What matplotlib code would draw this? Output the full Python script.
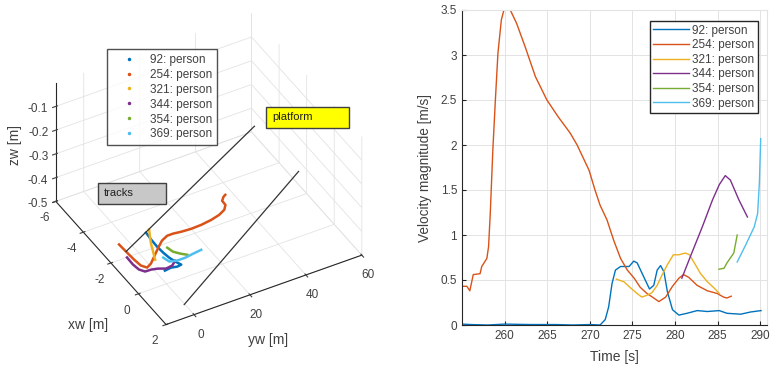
import matplotlib
matplotlib.use('Agg')
import matplotlib.pyplot as plt
from matplotlib.lines import Line2D
from matplotlib.patches import Rectangle
import numpy as np

plt.rcParams['font.family'] = ['Liberation Sans', 'DejaVu Sans']
plt.rcParams['grid.color'] = '#E3E3E3'
plt.rcParams['grid.linewidth'] = 0.6
plt.rcParams['axes.unicode_minus'] = False

labels = ['92: person', '254: person', '321: person', '344: person', '354: person', '369: person']
colors = ['#0072BD', '#D95319', '#EDB120', '#7E2F8E', '#77AC30', '#4DBEEE']

# ---- 3D tracks (world coordinates, m) ----
x92 = [-2.88, -2.45, -2.00, -1.60, -1.25, -0.94, -0.69, -0.66, -0.72, -0.68]
y92 = [6.9, 6.6, 6.5, 6.7, 7.1, 7.8, 8.7, 7.1, 5.2, 2.8]
x254 = [-2.77, -2.23, -1.77, -1.35, -1.14, -1.27, -1.56, -1.93, -2.21, -2.36, -2.36,
        -2.31, -2.28, -2.30, -2.37, -2.48, -2.64, -2.86, -3.12, -3.29, -3.36]
y254 = [-3.3, -3.1, -2.9, -2.5, -1.3, 0.7, 3.3, 6.6, 9.3, 11.9, 14.0,
        16.7, 20.1, 23.8, 27.7, 31.1, 33.7, 35.2, 35.3, 36.6, 37.6]
x321 = [-2.98, -2.62, -2.20, -1.82, -1.39]
y321 = [8.5, 7.0, 5.4, 4.2, 2.8]
x344 = [-1.99, -1.54, -1.19, -0.98, -0.97, -0.90, -0.76, -0.80, -0.99]
y344 = [-4.3, -4.4, -4.0, -2.8, -0.7, 1.4, 3.6, 6.0, 8.0]
x354 = [-1.77, -1.47, -1.25, -1.07]
y354 = [9.0, 9.6, 11.1, 12.7]
x369 = [-1.07, -1.02, -0.96, -0.96, -1.05, -1.35]
y369 = [17.7, 14.6, 11.4, 8.6, 6.2, 5.5]
track_z = -0.5

plat_x = [[-2.30, -1.55], [1.33, 1.45]]
plat_y = [[-3.1, 39.1], [-0.2, 40.1]]
plat_z = [[-0.5, -0.1], [-0.5, -0.1]]

xticks3 = [-6, -4, -2, 0, 2]
yticks3 = [0, 20, 40, 60]
zticks3 = [-0.5, -0.4, -0.3, -0.2, -0.1]

# ---- velocity series ----
t92 = [255.0, 256.0, 258.0, 260.0, 263.0, 266.0, 268.0, 270.0, 271.2, 271.8, 272.2, 272.6,
       273.0, 273.6, 274.6, 275.15, 275.55, 276.3, 277.0, 277.5, 277.9, 278.3, 278.7,
       279.1, 279.7, 280.45, 281.4, 282.6, 283.8, 285.2, 286.1, 287.7, 288.9, 290.1]
v92 = [0.01, 0.005, 0.0, 0.01, 0.005, 0.005, 0.0, 0.005, 0.0, 0.06, 0.2, 0.46,
       0.61, 0.65, 0.65, 0.71, 0.69, 0.54, 0.40, 0.44, 0.61, 0.66, 0.59,
       0.37, 0.17, 0.11, 0.13, 0.16, 0.15, 0.16, 0.13, 0.12, 0.145, 0.16]
t254 = [255.0, 255.55, 255.9, 256.3, 257.1, 257.3, 257.9, 258.1, 258.3, 258.6, 258.9,
        259.2, 259.6, 259.9, 260.3, 260.65, 261.4, 262.4, 263.6, 264.95, 266.3, 267.7,
        268.5, 269.9, 270.6, 271.2, 272.0, 272.8, 273.6, 274.4, 275.2, 275.9, 276.7,
        277.5, 278.1, 278.9, 279.7, 280.45, 281.0, 281.6, 282.6, 283.8, 284.96, 285.7,
        286.1, 286.6]
v254 = [0.43, 0.43, 0.38, 0.56, 0.57, 0.65, 0.74, 0.87, 1.24, 1.94, 2.5,
        3.02, 3.39, 3.5, 3.58, 3.5, 3.35, 3.09, 2.76, 2.5, 2.31, 2.13,
        2.0, 1.72, 1.5, 1.33, 1.17, 0.94, 0.74, 0.61, 0.52, 0.42, 0.35,
        0.30, 0.26, 0.31, 0.43, 0.52, 0.56, 0.53, 0.44, 0.38, 0.35, 0.31,
        0.30, 0.32]
t321 = [273.1, 274.0, 274.8, 275.55, 276.1, 276.7, 277.3, 277.9, 278.5, 279.1, 279.8,
        280.45, 281.2, 281.7, 282.2, 283.0, 283.8, 284.6, 285.2]
v321 = [0.51, 0.48, 0.41, 0.35, 0.31, 0.33, 0.36, 0.44, 0.56, 0.67, 0.78,
        0.78, 0.80, 0.78, 0.70, 0.57, 0.48, 0.41, 0.35]
t344 = [280.8, 281.8, 283.2, 284.4, 285.2, 285.9, 286.5, 287.5, 288.5]
v344 = [0.52, 0.76, 1.09, 1.39, 1.56, 1.66, 1.61, 1.39, 1.20]
t354 = [285.15, 285.75, 286.1, 286.9, 287.3]
v354 = [0.62, 0.63, 0.69, 0.80, 1.0]
t369 = [287.3, 288.3, 289.3, 289.7, 289.9, 290.06]
v369 = [0.70, 0.89, 1.09, 1.24, 1.57, 2.07]

xticks2 = [260, 265, 270, 275, 280, 285, 290]
yticks2 = [0, 0.5, 1, 1.5, 2, 2.5, 3, 3.5]

AX = '#262626'
TXT = '#404040'

fig = plt.figure(figsize=(7.79, 3.70), dpi=100)

# ================= 3D plot =================
ax3 = fig.add_axes([0.0116, 0.03, 0.5, 1.0], projection='3d')
ax3.set_proj_type('ortho')
ax3.view_init(elev=39, azim=-29.4)
ax3.set_box_aspect((1, 1, 0.68), zoom=0.925)

tracks = [(x92, y92), (x254, y254), (x321, y321), (x344, y344), (x354, y354), (x369, y369)]
for (tx, ty), c in zip(tracks, colors):
    ax3.plot(tx, ty, [track_z] * len(tx), '-', color=c, lw=1.8)
for px, py, pz in zip(plat_x, plat_y, plat_z):
    ax3.plot(px, py, pz, '-', color='#333333', lw=0.9)

ax3.set_xlim(-6, 2)
ax3.set_ylim(-10, 60)
ax3.set_zlim(-0.5, 0)
ax3.set_xticks(xticks3)
ax3.set_yticks(yticks3)
ax3.set_zticks(zticks3)
ax3.set_zticklabels(['-0.5', '-0.4', '-0.3', '-0.2', '-0.1'])
ax3.tick_params(labelsize=8.5, colors=TXT, pad=0)
for a in (ax3.xaxis, ax3.yaxis, ax3.zaxis):
    a.set_pane_color((1, 1, 1, 0))
    a.pane.set_edgecolor('#DADADA')
    a.line.set_color(AX)
    a.line.set_linewidth(0.8)
ax3.zaxis.set_ticks_position('lower')
ax3.set_xlabel('')
ax3.set_ylabel('')
ax3.set_zlabel('')
# axis titles of the 3D view
fig.text(88 / 779, 1 - 325 / 370, 'xw [m]', fontsize=10, color=TXT, ha='center', va='center')
fig.text(268 / 779, 1 - 340 / 370, 'yw [m]', fontsize=10, color=TXT, ha='center', va='center')
fig.text(15 / 779, 1 - 145 / 370, 'zw [m]', fontsize=10, color=TXT, ha='center', va='center',
         rotation=90)

h3 = [Line2D([], [], ls='none', marker='.', ms=3, color=c) for c in colors]
fig.legend(h3, labels, loc='upper left', bbox_to_anchor=(107 / 779, 1 - 49 / 370),
           bbox_transform=fig.transFigure, fontsize=8.5, frameon=True, fancybox=False,
           edgecolor=AX, handlelength=2.85, handletextpad=0.38, labelspacing=0.25,
           borderpad=0.4, borderaxespad=0, labelcolor=TXT)

# annotation boxes
fig.patches.append(Rectangle((98 / 779, 1 - 204 / 370), 68 / 779, 21 / 370,
                             transform=fig.transFigure, facecolor='#C8C8C8',
                             edgecolor='#404040', lw=1))
fig.text(104 / 779, 1 - 193.5 / 370, 'tracks', fontsize=8, va='center', color='#222222')
fig.patches.append(Rectangle((266 / 779, 1 - 128 / 370), 83 / 779, 21 / 370,
                             transform=fig.transFigure, facecolor='#FFFF00',
                             edgecolor='#404040', lw=1))
fig.text(272 / 779, 1 - 117.5 / 370, 'platform', fontsize=8, va='center', color='#222222')

# ================= 2D velocity plot =================
ax2 = fig.add_axes([462 / 779, 1 - 325 / 370, 305 / 779, 315 / 370])
series = [(t92, v92), (t254, v254), (t321, v321), (t344, v344), (t354, v354), (t369, v369)]
for (tt, vv), c, lab in zip(series, colors, labels):
    ax2.plot(tt, vv, '-', color=c, lw=1.0, label=lab)
ax2.set_xlim(254.98, 290.8)
ax2.set_ylim(0, 3.5)
ax2.set_xticks(xticks2)
ax2.set_yticks(yticks2)
ax2.set_yticklabels(['0', '0.5', '1', '1.5', '2', '2.5', '3', '3.5'])
ax2.grid(True, color='#E3E3E3', lw=0.7)
ax2.set_axisbelow(True)
ax2.tick_params(direction='in', length=3, labelsize=8.5, colors=TXT, color=AX)
for s in ('left', 'bottom'):
    ax2.spines[s].set_color(AX)
    ax2.spines[s].set_linewidth(0.8)
for s in ('top', 'right'):
    ax2.spines[s].set_color('#E3E3E3')
ax2.set_xlabel('Time [s]', fontsize=10, color=TXT, labelpad=6)
ax2.set_ylabel('Velocity magnitude [m/s]', fontsize=9.8, color=TXT, labelpad=6)
ax2.legend(loc='upper right', bbox_to_anchor=(758 / 779, 1 - 21 / 370),
           bbox_transform=fig.transFigure, fontsize=8.5, frameon=True, fancybox=False,
           edgecolor=AX, handlelength=3.0, handletextpad=0.3, labelspacing=0.22,
           borderpad=0.3, borderaxespad=0, labelcolor=TXT, framealpha=1)

fig.savefig('out.png', dpi=100)
